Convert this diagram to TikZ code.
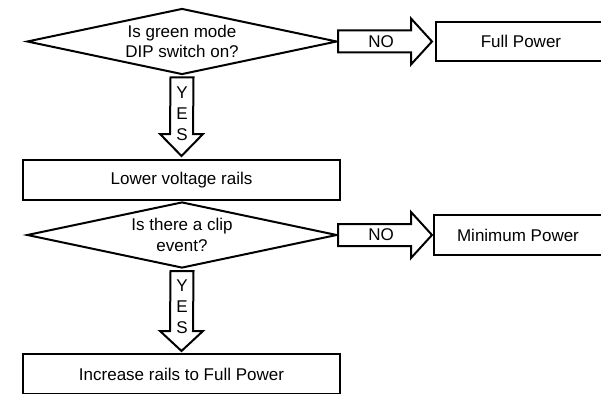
\documentclass[tikz,border=0pt]{standalone}
\usepackage{fontspec}
\setmainfont{Liberation Sans}
\usetikzlibrary{shapes.geometric,calc}
\begin{document}
\begin{tikzpicture}[x=1pt,y=-1pt,line width=2pt,line join=miter,
  font=\fontsize{17}{20.5}\selectfont,
  box/.style={draw,rectangle,inner sep=0pt,align=center},
  decision/.style={draw,diamond,inner sep=0pt,minimum width=310pt,minimum height=66pt,shape aspect=4.7,align=center},
  blockarrow/.style={draw,fill=white},
  lbl/.style={inner sep=0pt,align=center,font=\fontsize{17}{21}\selectfont}]
\useasboundingbox (0,0) rectangle (601,393);
\clip (0,0) rectangle (601,393);
% nodes
\node[decision] (d1) at (182,41.5) {Is green mode\\DIP switch on?};
\node[box,minimum width=170pt,minimum height=39pt] (fp) at (521,41.5) {Full Power};
\node[box,minimum width=317pt,minimum height=40pt] (lv) at (181.5,180) {Lower voltage rails};
\node[decision] (d2) at (182,235) {Is there a clip\\event?};
\node[box,minimum width=168pt,minimum height=40pt] (mp) at (518,235) {Minimum Power};
\node[box,minimum width=317pt,minimum height=40pt] (ir) at (181.5,374) {Increase rails to Full Power};
% tips
\coordinate (t1) at ($(fp.west)+(-3,0)$);
\coordinate (t2) at ($(mp.west)+(-1,0)$);
\coordinate (t3) at ($(lv.north)+(0,-3)$);
\coordinate (t4) at ($(ir.north)+(0,-2)$);
% NO arrows
\draw[blockarrow] ($(d1.east)+(0,-11)$) -- ($(t1)+(-21,-11)$) -- ($(t1)+(-21,-23)$) -- (t1)
  -- ($(t1)+(-21,23)$) -- ($(t1)+(-21,11)$) -- ($(d1.east)+(0,11)$) -- cycle;
\node[lbl] (no1) at ($(d1.east)+(43,0)$) {NO};
\draw[blockarrow] ($(d2.east)+(0,-11)$) -- ($(t2)+(-21,-11)$) -- ($(t2)+(-21,-23)$) -- (t2)
  -- ($(t2)+(-21,23)$) -- ($(t2)+(-21,11)$) -- ($(d2.east)+(0,11)$) -- cycle;
\node[lbl] (no2) at ($(d2.east)+(43,0)$) {NO};
% YES arrows
\draw[blockarrow] ($(d1.south)+(-11.5,2)$) -- ($(t3)+(-11.5,-22)$) -- ($(t3)+(-21.5,-22)$) -- (t3)
  -- ($(t3)+(21.5,-22)$) -- ($(t3)+(11.5,-22)$) -- ($(d1.south)+(11.5,2)$) -- cycle;
\node[lbl] (yes1) at ($(d1.south)+(0,38)$) {Y\\E\\S};
\draw[blockarrow] ($(d2.south)+(-11.5,2)$) -- ($(t4)+(-11.5,-20)$) -- ($(t4)+(-21.5,-20)$) -- (t4)
  -- ($(t4)+(21.5,-20)$) -- ($(t4)+(11.5,-20)$) -- ($(d2.south)+(11.5,2)$) -- cycle;
\node[lbl] (yes2) at ($(d2.south)+(0,38)$) {Y\\E\\S};
\end{tikzpicture}
\end{document}
